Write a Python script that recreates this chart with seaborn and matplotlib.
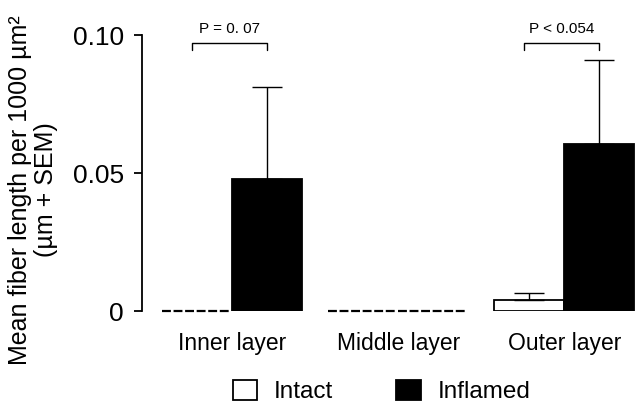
import numpy as np
import pandas as pd
import seaborn as sns
import matplotlib.pyplot as plt
from matplotlib.patches import Patch

# data
layers = ['Inner layer', 'Middle layer', 'Outer layer']
groups = ['Intact', 'Inflamed']
intact_mean = [0.0, 0.0, 0.004]
intact_sem = [0.0, 0.0, 0.0025]
inflamed_mean = [0.048, 0.0, 0.0605]
inflamed_sem = [0.033, 0.0, 0.0305]
p_labels = ['P = 0. 07', None, 'P < 0.054']

df = pd.DataFrame({
    'layer': layers * 2,
    'group': ['Intact'] * 3 + ['Inflamed'] * 3,
    'value': intact_mean + inflamed_mean,
    'sem': intact_sem + inflamed_sem,
})

sns.set_style('white')
plt.rcParams['font.family'] = ['Liberation Sans', 'DejaVu Sans']
plt.rcParams['text.color'] = 'black'
plt.rcParams['axes.labelcolor'] = 'black'
plt.rcParams['xtick.color'] = 'black'
plt.rcParams['ytick.color'] = 'black'

fig = plt.figure(figsize=(6.39, 4.12), dpi=100)
ax = fig.add_axes([0.2222, 0.245, 0.7778, 0.67])

sns.barplot(data=df, x='layer', y='value', hue='group', order=layers,
            hue_order=groups, palette={'Intact': 'white', 'Inflamed': 'black'},
            edgecolor='black', linewidth=1.3, width=0.84, gap=0,
            errorbar=None, legend=False, ax=ax)

centers = {}
for cont, g in zip(ax.containers, groups):
    sub = df[df['group'] == g].set_index('layer').loc[layers]
    xs = []
    for bar, m, s in zip(cont, sub['value'], sub['sem']):
        xc = bar.get_x() + bar.get_width() / 2
        xs.append(xc)
        if bar.get_height() == 0:
            # empty group: dashed line on the baseline instead of a bar
            bar.set_linewidth(0)
            x0 = bar.get_x()
            ax.plot([x0, x0 + bar.get_width() * 0.98], [0, 0], color='black',
                    lw=1.6, dashes=(4, 1.2), clip_on=False,
                    solid_capstyle='butt', dash_capstyle='butt')
        else:
            ax.errorbar(xc, m, yerr=[[0], [s]], fmt='none', ecolor='black',
                        elinewidth=1.0, capsize=10.5, capthick=1.0, zorder=1)
    centers[g] = xs

# significance brackets
for i, lab in enumerate(p_labels):
    if lab is None:
        continue
    x1, x2 = centers['Intact'][i] - 0.03, centers['Inflamed'][i]
    yb = 0.0971
    ax.plot([x1, x1, x2, x2], [yb - 0.0025, yb, yb, yb - 0.0025],
            color='black', lw=1.0, clip_on=False)
    ax.text((x1 + x2) / 2, yb + 0.0025, lab, ha='center', va='bottom',
            fontsize=11, clip_on=False)

ax.set_xlim(-0.542, 2.45)
ax.set_ylim(0, 0.1)
ax.set_yticks([0, 0.05, 0.1])
ax.set_yticklabels(['0', '0.05', '0.10'], fontsize=19)
ax.tick_params(axis='y', direction='out', length=6, width=1.3, left=True, pad=7)
ax.tick_params(axis='x', length=0, labelsize=16.5, pad=15)
for side in ['top', 'right', 'bottom']:
    ax.spines[side].set_visible(False)
ax.spines['left'].set_linewidth(1.3)
ax.spines['left'].set_color('black')
ax.set_xlabel('')
ax.set_ylabel('')
fig.text(33 / 639, 1 - 190 / 412, 'Mean fiber length per 1000 µm²\n(µm + SEM)',
         rotation=90, ha='center', va='center', multialignment='center',
         fontsize=18, linespacing=1.12)

handles = [Patch(facecolor='white', edgecolor='black', linewidth=1.3),
           Patch(facecolor='black', edgecolor='black', linewidth=1.3)]
fig.legend(handles, groups, loc='center', bbox_to_anchor=(0.597, 0.05), ncol=2,
           frameon=False, fontsize=17.5, handlelength=1.0, handleheight=0.9,
           columnspacing=2.6, handletextpad=0.7)

fig.savefig('out.png', dpi=100)
